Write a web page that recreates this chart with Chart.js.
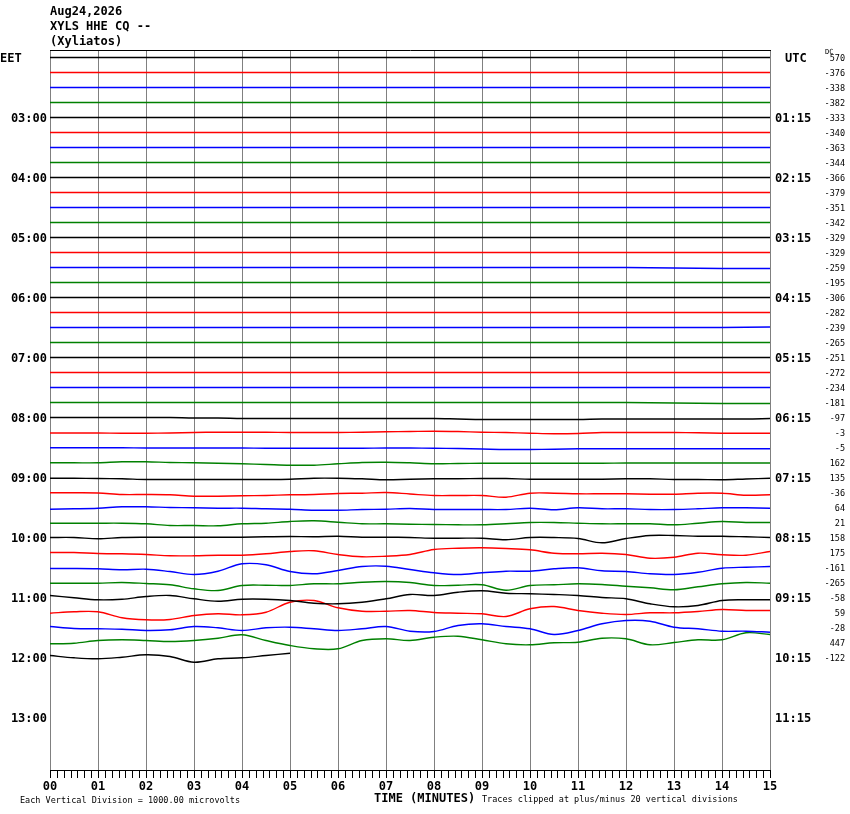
<!DOCTYPE html>
<html>
<head>
<meta charset="utf-8">
<script src="https://cdn.jsdelivr.net/npm/chart.js@4.4.1/dist/chart.umd.min.js"></script>
<style>
  body { margin: 0; background: #fff; }
</style>
</head>
<body>
<canvas id="heli" width="850" height="814"></canvas>
<script>
var headerLines = ["Aug24,2026", "XYLS HHE CQ --", "(Xyliatos)"];
var minuteLabels = ["00","01","02","03","04","05","06","07","08","09","10","11","12","13","14","15"];
var eetLabels = ["EET","03:00","04:00","05:00","06:00","07:00","08:00","09:00","10:00","11:00","12:00","13:00"];
var utcLabels = ["UTC","01:15","02:15","03:15","04:15","05:15","06:15","07:15","08:15","09:15","10:15","11:15"];
var dcOffsets = [570,-376,-338,-382,-333,-340,-363,-344,-366,-379,-351,-342,-329,-329,-259,-195,
                 -306,-282,-239,-265,-251,-272,-234,-181,-97,-3,-5,162,135,-36,64,21,158,175,-161,-265,
                 -58,59,-28,447,-122];
var traceColors = ["#000000","#ff0000","#0000ff","#008000"];

// rows 0-23 (02:00 - 07:45 EET): quiet, one reading per minute
var quietTraces = [
  [0,0,0,0,0,0,0,0,0,0,0,0,0,0,0,0],
  [0,0,0,0,0,0,0,0,0,0,0,0,0,0,0,0],
  [0,0,0,0,0,0,0,0,0,0,0,0,0,0,0,0],
  [0,0,0,0,0,0,0,0,0,0,0,0,0,0,0,0],
  [0,0,0,0,0,0,0,0,0,0,0,0,0,0,0,0],
  [0,0,0,0,0,0,0,0,0,0,0,0,0,0,0,0],
  [0,0,0,0,0,0,0,0,0,0,0,0,0,0,0,0],
  [0,0,0,0,0,0,0,0,0,0,0,0,0,0,0,0],
  [0,0,0,0,0,0,0,0,0,0,0,0,0,0,0,0],
  [0,0,0,0,0,0,0,0,0,0,0,0,0,0,0,0],
  [0,0,0,0,0,0,0,0,0,0,0,0,0,0,0,0],
  [0,0,0,0,0,0,0,0,0,0,0,0,0,0,0,0],
  [0,0,0,0,0,0,0,0,0,0,0,0,0,0,0,0],
  [0,0,0,0,0,0,0,0,0,0,0,0,0,0,0,0],
  [0,0,0,0,0,0,0,0,0,0,0,0,0,-0.5,-1,-1],
  [0,0,0,0,0,0,0,0,0,0,0,0,0,0,0,0],
  [0,0,0,0,0,0,0,0,0,0,0,0,0,0,0,0],
  [0,0,0,0,0,0,0,0,0,0,0,0,0,0,0,0],
  [0,0,0,0,0,0,0,0,0,0,0,0,0,0,0,0.5],
  [0,0,0,0,0,0,0,0,0,0,0,0,0,0,0,0],
  [0,0,0,0,0,0,0,0,0,0,0,0,0,0,0,0],
  [0,0,0,0,0,0,0,0,0,0,0,0,0,0,0,0],
  [0,0,0,0,0,0,0,0,0,0,0,0,0,0,0,0],
  [0,0,0,0,0,0,0,0,0,0,0,0,0,-0.5,-1,-1]
];

// rows 24-40 (08:00 - 12:00 EET): readings every half minute
var waveTraces = [
  [0,0,0,0,0,0,-0.5,-0.5,-1,-1,-1,-1,-1,-1,-1,-1,-1,-1.5,-2,-2,-2,-2,-2,-1.5,-1.5,-1.5,-1.5,-1.5,-1.5,-1.5,-1],
  [-0.5,-0.5,-0.5,-0.7,-0.7,-0.5,0,0.3,0.3,0.3,0,0,0,0.3,0.7,1,1.3,1,0.3,0,-0.7,-1.3,-1,0,0,0,0,-0.3,-0.7,-0.7,-0.7],
  [-0.3,-0.3,-0.3,-0.3,-0.5,-0.5,-0.5,-0.5,-0.5,-0.7,-0.7,-0.7,-0.7,-0.7,-0.5,-0.5,-0.7,-1,-1.5,-2,-2,-1.7,-1.3,-1.3,-1.3,-1.3,-1.3,-1.3,-1.3,-1.3,-1.3],
  [-0.3,-0.3,-0.3,0.7,0.7,0,-0.3,-0.7,-1.3,-2,-2.7,-2.7,-1.3,0,0.3,-0.3,-1.3,-1,-0.7,-0.7,-0.7,-0.7,-0.7,-0.7,-0.5,-0.5,-0.5,-0.5,-0.5,-0.5,-0.5],
  [-0.7,-0.7,-1,-1.3,-2,-2,-2,-2,-2,-2,-1.7,-0.7,-0.7,-1.3,-2.3,-1.7,-1.3,-1.3,-1,-1,-1.7,-1.7,-1.7,-1.7,-1.3,-1.3,-2,-2,-2.3,-1.5,-0.7],
  [-0.3,-0.3,-0.5,-2,-2,-2.3,-3.7,-3.7,-3.3,-3,-2.3,-2,-1,-0.7,0,-1.5,-3,-3,-3,-4.7,-0.7,-0.7,-1.3,-1.3,-1.3,-1.7,-1.7,-0.7,-0.7,-2.7,-2.3],
  [-1.7,-1.3,-0.7,0.7,0.7,0,-0.3,-0.7,-0.7,-1.3,-1.7,-2.7,-2.7,-2,-1.7,-1,-2,-2,-2,-2,-0.7,-2.3,-0.3,-1.3,-1.3,-2,-2,-1.3,-0.3,-0.3,-0.7],
  [-0.7,-0.7,-0.7,-0.7,-1.3,-3,-3,-3.3,-1.3,-0.7,1,1.7,0.3,-1.3,-1.3,-1.7,-2,-2.3,-2.3,-1.3,0,0,-0.7,-1.3,-1.3,-1.3,-2.3,-0.7,1,0,0],
  [0,0,-1.3,0,0.3,0.3,0.3,0.3,0.3,0.7,1,0.7,1.3,0.3,0.3,0,-0.7,-0.7,-0.7,-2.3,0,0,-1,-5.3,-1,2,2,1.3,1.3,0.7,0],
  [0,0,-1,-1.3,-2,-3.3,-3.3,-2.7,-2.7,-1.3,1,1.7,-2,-4.3,-3.7,-2,3,4.3,4.7,4,2.7,-0.7,-1.3,-0.7,-2,-5.7,-4.7,-0.7,-2.3,-2.7,1],
  [-1,-1,-1.3,-2.3,-1.7,-4,-7,-3.7,3.7,2.7,-4,-6.3,-3,1,1.3,-2,-5.3,-7,-5.3,-3.7,-3.7,-1.3,-0.3,-3.3,-4,-6.3,-7,-4.7,-0.7,0.3,1],
  [-0.7,-0.7,-0.7,0,-1,-2.3,-6.3,-8,-3,-2.7,-3,-1.3,-1.3,0.3,1,0,-3,-2.7,-2.3,-7.7,-3,-2.3,-1.3,-2,-3.7,-5.3,-7.3,-4.3,-1.3,0,-0.7],
  [2,-0.3,-2.3,-1.7,1,2,-1.3,-3.7,-1.7,-1.7,-3,-5.7,-6.3,-4.7,-1.3,3,2,5.3,6.7,4.3,3.7,3,2,0,-1.3,-6.3,-9.3,-8,-3,-2.3,-2.3],
  [-0.7,0.7,0.7,-5.3,-7.3,-7,-3,-1.3,-2.3,0.3,10.3,12,4.7,1.3,1.3,2,0,-0.7,-1.3,-4,3.7,6,2,-0.7,-2,-0.3,-0.3,1,3,2,2],
  [1,-1,-1.3,-1.7,-3,-2.3,1,-0.3,-3,-0.3,0.3,-1.3,-3,-1.3,1,-3.7,-4,2,3.7,1,-1.3,-7,-3,3.7,7,6.3,0.3,-1.3,-3.7,-3.7,-4.7],
  [-1.3,-0.7,2,2.7,2,1,2,4.3,7.7,2,-3,-6.3,-6.3,2,3.7,2,5.3,6.3,2.7,-1.3,-2.3,-0.3,0.3,4.3,3.7,-2.3,0,2.7,2.7,9.7,8],
  [2,-0.3,-1.3,0.3,2.7,1,-4.7,-1.3,-0.3,2,4.3]
];

// ---- chart ----
var rowGap = 15;       // trace units between neighbouring rows
var halfMinute = 0.5;

var datasets = [];
quietTraces.forEach(function (vals, r) {
  datasets.push({
    data: vals.map(function (v, i) { return { x: i, y: r * rowGap - v }; }),
    borderColor: traceColors[r % 4]
  });
});
waveTraces.forEach(function (vals, k) {
  var r = quietTraces.length + k;
  datasets.push({
    data: vals.map(function (v, i) { return { x: i * halfMinute, y: r * rowGap - v }; }),
    borderColor: traceColors[r % 4]
  });
});

var MONO = "'DejaVu Sans Mono', 'Liberation Mono', monospace";

var heliFrame = {
  id: 'heliFrame',
  beforeDatasetsDraw: function (chart) {
    var c = chart.ctx, a = chart.chartArea, x = chart.scales.x;
    c.save();
    c.lineWidth = 1;
    c.strokeStyle = '#808080';
    for (var m = 0; m <= 15; m++) {
      var px = Math.round(x.getPixelForValue(m)) + 0.5;
      c.beginPath(); c.moveTo(px, a.top); c.lineTo(px, a.bottom); c.stroke();
    }
    c.strokeStyle = '#000';
    c.beginPath(); c.moveTo(a.left, a.top + 0.5); c.lineTo(a.right + 1, a.top + 0.5); c.stroke();
    c.restore();
  },
  afterDraw: function (chart) {
    var c = chart.ctx, a = chart.chartArea, x = chart.scales.x, y = chart.scales.y;
    c.save();
    c.fillStyle = '#000';
    c.strokeStyle = '#000';
    c.lineWidth = 1;

    // time axis
    c.beginPath(); c.moveTo(a.left, a.bottom + 0.5); c.lineTo(a.right + 1, a.bottom + 0.5); c.stroke();
    for (var t = 0; t <= 15 * 7; t++) {
      var tx = Math.round(x.getPixelForValue(t / 7)) + 0.5;
      c.beginPath(); c.moveTo(tx, a.bottom); c.lineTo(tx, a.bottom + 8); c.stroke();
    }
    c.font = 'bold 12px ' + MONO;
    c.textAlign = 'center';
    c.textBaseline = 'middle';
    minuteLabels.forEach(function (lab, m) {
      c.fillText(lab, x.getPixelForValue(m), a.bottom + 17);
    });

    // header
    c.textAlign = 'left';
    headerLines.forEach(function (s, i) { c.fillText(s, 50, 12 + i * 15); });

    // hour labels, one per four rows
    eetLabels.forEach(function (s, i) {
      var py = y.getPixelForValue(i * 4 * rowGap) + 1;
      if (i === 0) { c.textAlign = 'left'; c.fillText(s, 0, py); }
      else { c.textAlign = 'right'; c.fillText(s, 47, py); }
    });
    c.textAlign = 'left';
    utcLabels.forEach(function (s, i) {
      var py = y.getPixelForValue(i * 4 * rowGap) + 1;
      c.fillText(s, i === 0 ? 785 : 775, py);
    });
    c.fillText('TIME (MINUTES)', 374, 799);

    // DC offsets column
    c.font = '8.5px ' + MONO;
    c.textAlign = 'right';
    dcOffsets.forEach(function (v, r) {
      c.fillText(String(v), 845, y.getPixelForValue(r * rowGap) + 1);
    });
    c.font = '7px ' + MONO;
    c.textAlign = 'left';
    c.fillText('DC', 825, 52);

    c.font = '8.5px ' + MONO;
    c.fillText('Each Vertical Division = 1000.00 microvolts', 20, 801);
    c.fillText('Traces clipped at plus/minus 20 vertical divisions', 482, 800);
    c.restore();
  }
};

new Chart(document.getElementById('heli'), {
  type: 'line',
  data: { datasets: datasets },
  options: {
    responsive: false,
    animation: false,
    events: [],
    layout: { padding: { left: 50, right: 80, top: 50, bottom: 44 } },
    plugins: { legend: { display: false }, tooltip: { enabled: false } },
    elements: {
      point: { radius: 0 },
      line: { borderWidth: 1.4, tension: 0.35, fill: false }
    },
    scales: {
      x: { type: 'linear', min: 0, max: 15, display: false },
      y: { type: 'linear', min: -7.5, max: 712.5, reverse: true, display: false }
    }
  },
  plugins: [heliFrame]
});
</script>
</body>
</html>
